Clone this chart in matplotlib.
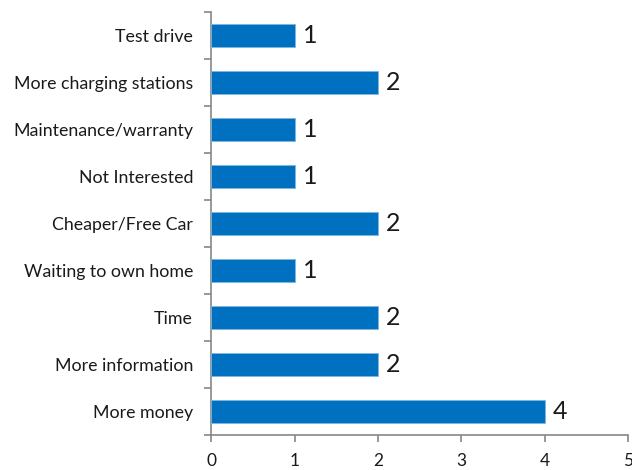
import numpy as np
import matplotlib
matplotlib.use('Agg')
import matplotlib.pyplot as plt

categories = ['More money', 'More information', 'Time', 'Waiting to own home',
              'Cheaper/Free Car', 'Not Interested', 'Maintenance/warranty',
              'More charging stations', 'Test drive']
counts = [4, 2, 2, 1, 2, 1, 1, 2, 1]

plt.rcParams['font.family'] = ['Lato', 'DejaVu Sans']
fig = plt.figure(figsize=(6.32, 4.70), dpi=100)
ax = fig.add_axes([0.334, 0.0745, 0.66, 0.90])

y = np.arange(len(categories))
ax.barh(y, counts, height=0.5, color='#0070C0', edgecolor='#7FB6E0', linewidth=0.6, zorder=3)
for yi, v in zip(y, counts):
    ax.text(v + 0.1, yi, str(v), va='center', ha='left', fontsize=18, color='#1a1a1a')

ax.set_xlim(0, 5)
ax.set_ylim(-0.5, len(categories) - 0.5)
ax.set_xticks(range(6))
ax.set_yticks(y)
ax.set_yticklabels(categories)
ax.set_yticks(np.arange(-0.5, len(categories), 1.0), minor=True)
ax.tick_params(axis='y', which='major', length=0, labelsize=12.8, pad=13, colors='#1a1a1a')
ax.tick_params(axis='y', which='minor', length=5, color='#868686', width=1.2)
ax.tick_params(axis='x', length=5, color='#868686', width=1.2, labelsize=12.5, pad=8, labelcolor='#1a1a1a')
for s in ['top', 'right']:
    ax.spines[s].set_visible(False)
for s in ['left', 'bottom']:
    ax.spines[s].set_color('#868686')
    ax.spines[s].set_linewidth(1.2)

fig.savefig('out.png', dpi=100)
